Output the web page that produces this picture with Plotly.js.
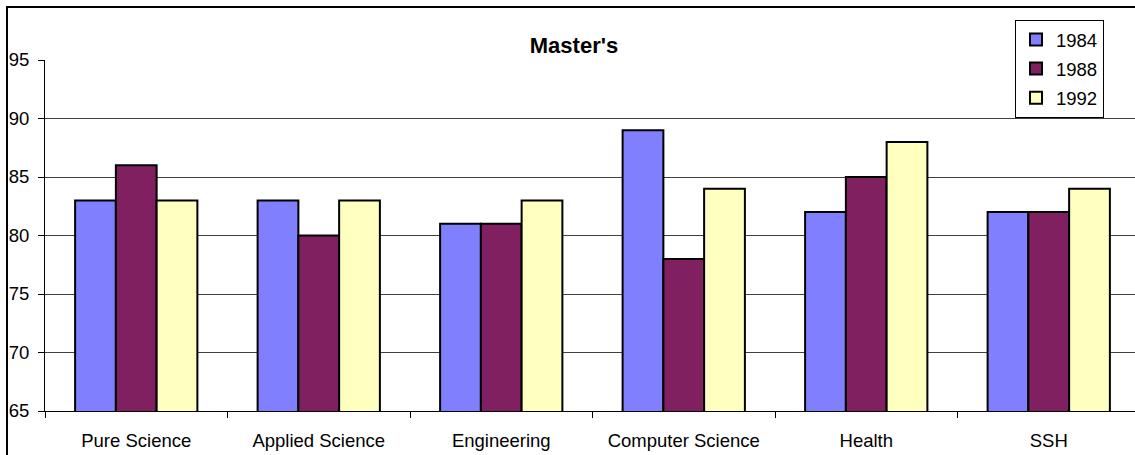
<!DOCTYPE html>
<html>
<head>
<meta charset="utf-8">
<script src="https://cdn.plot.ly/plotly-3.0.1.min.js"></script>
<style>
  html, body { margin: 0; padding: 0; background: #fff; overflow: hidden; }
  #wrap { position: relative; width: 1135px; height: 455px; overflow: hidden; }
  #frame { position: absolute; left: 6px; top: 6px; width: 1200px; height: 500px;
           border: 2px solid #000; box-sizing: border-box; pointer-events: none; z-index: 5; }
  #chart { position: absolute; left: 0; top: 0; width: 1150px; height: 455px; }
</style>
</head>
<body>
<div id="wrap">
  <div id="chart"></div>
  <div id="frame"></div>
</div>
<script>
// Fields of study
const categories = ['Pure Science', 'Applied Science', 'Engineering', 'Computer Science', 'Health', 'SSH'];

// Percentages per survey year
const years = ['1984', '1988', '1992'];
const values1984 = [83, 83, 81, 89, 82, 82];
const values1988 = [86, 80, 81, 78, 85, 82];
const values1992 = [83, 83, 83, 84, 88, 84];

const yTicks = [65, 70, 75, 80, 85, 90, 95];

const seriesValues = [values1984, values1988, values1992];
const colors = ['#8080FF', '#802060', '#FFFFC0'];

const font = 'Arial, "Liberation Sans", sans-serif';

const traces = seriesValues.map((vals, i) => ({
  type: 'bar',
  name: years[i],
  x: categories,
  y: vals,
  legendgroup: years[i],
  marker: { color: colors[i], line: { color: '#000', width: 2 } },
  hoverinfo: 'x+y+name'
}));

const layout = {
  width: 1150,
  height: 455,
  margin: { l: 45, r: 10, t: 60, b: 44 },
  paper_bgcolor: 'rgba(0,0,0,0)',
  plot_bgcolor: '#fff',
  font: { family: font, size: 18.5, color: '#000' },
  title: {
    text: "<b>Master's</b>",
    font: { family: font, size: 22, color: '#000' },
    xref: 'container', x: 574 / 1150, xanchor: 'center',
    yref: 'container', y: 1 - 45 / 455, yanchor: 'middle'
  },
  barmode: 'group',
  bargap: 0.33,
  bargroupgap: 0,
  xaxis: {
    type: 'category',
    tickson: 'boundaries',
    ticks: 'outside', ticklen: 6, tickcolor: '#000', tickwidth: 1,
    showline: true, linecolor: '#000', linewidth: 1,
    showgrid: false, zeroline: false,
    ticklabelstandoff: 13,
    tickfont: { family: font, size: 18.5, color: '#000' }
  },
  yaxis: {
    range: [65, 95],
    tickmode: 'array', tickvals: yTicks, ticktext: yTicks.map(String),
    ticks: 'outside', ticklen: 6, tickcolor: '#000', tickwidth: 1,
    showline: true, linecolor: '#000', linewidth: 1,
    showgrid: true, gridcolor: '#404040', gridwidth: 1,
    zeroline: false,
    ticklabelstandoff: 5,
    tickfont: { family: font, size: 18.5, color: '#000' }
  },
  legend: {
    x: (1015 - 45) / 1095, xanchor: 'left',
    y: (411 - 20) / 351, yanchor: 'top',
    bgcolor: '#fff', bordercolor: '#000', borderwidth: 1,
    font: { family: font, size: 18.5, color: '#000' },
    traceorder: 'grouped', tracegroupgap: 2,
    itemwidth: 30
  },
  showlegend: true
};

Plotly.newPlot('chart', traces, layout, { displayModeBar: false, staticPlot: true });
</script>
</body>
</html>
